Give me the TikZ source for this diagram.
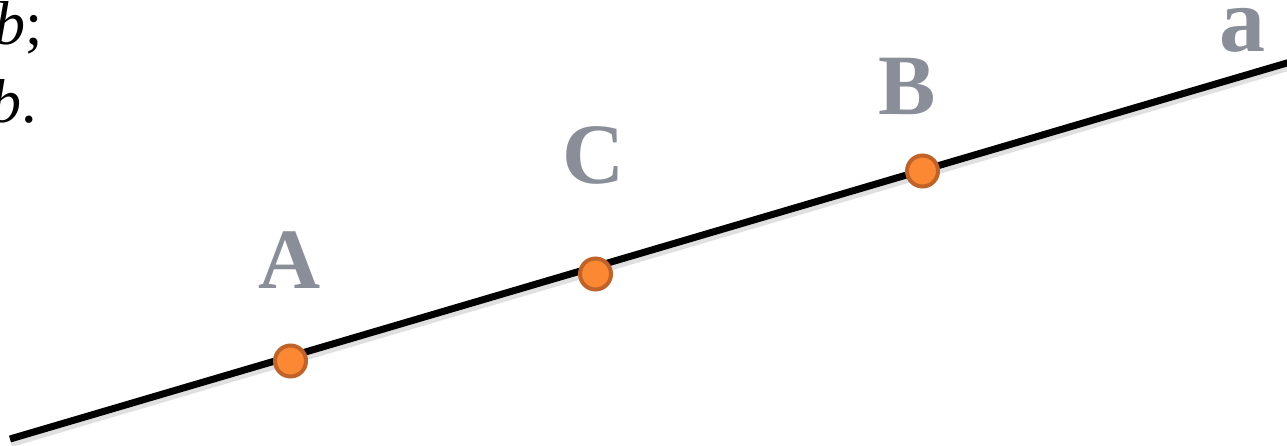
\documentclass[tikz,border=0pt]{standalone}
\usepackage{fontspec}
\setmainfont{Liberation Serif}
\definecolor{labelgray}{RGB}{137,142,152}
\definecolor{dotfill}{RGB}{253,136,52}
\definecolor{dotedge}{RGB}{192,99,42}
\begin{document}
\begin{tikzpicture}[x=1pt,y=-1pt,
  ptdot/.style={circle,fill=dotfill,draw=dotedge,line width=4pt,minimum size=31pt,inner sep=0pt},
  ptlabel/.style={text=labelgray,font=\fontsize{86}{86}\selectfont\bfseries,inner sep=0pt,anchor=base},
  sidetext/.style={font=\fontsize{62}{62}\selectfont,inner sep=0pt,anchor=base east},
  mainline/.style={line width=7pt,black},
  shadowline/.style={line width=8pt,black,opacity=0.12}]
\useasboundingbox (0,0) rectangle (1287,446);
\clip (0,0) rectangle (1287,446);
% line
\coordinate (L1) at (10,439);
\coordinate (L2) at (1292,61.5);
\draw[shadowline] ([shift={(1,4)}]L1) -- ([shift={(1,4)}]L2);
\draw[mainline] (L1) -- (L2);
% points
\node[ptdot] (A) at (290.5,361) {};
\node[ptdot] (C) at (595.5,274) {};
\node[ptdot] (B) at (922.5,171) {};
% labels
\node[ptlabel] (lA) at (290,288) {A};
\node[ptlabel] (lC) at (594,184) {C};
\node[ptlabel] (lB) at (907,115) {B};
\node[ptlabel,font=\fontsize{92}{92}\selectfont\bfseries] (la) at (1242,52) {a};
% clipped text at top left
\node[sidetext] (t1) at (43,45) {\textit{b};};
\node[sidetext] (t2) at (37,123) {\textit{b}.};
\end{tikzpicture}
\end{document}
